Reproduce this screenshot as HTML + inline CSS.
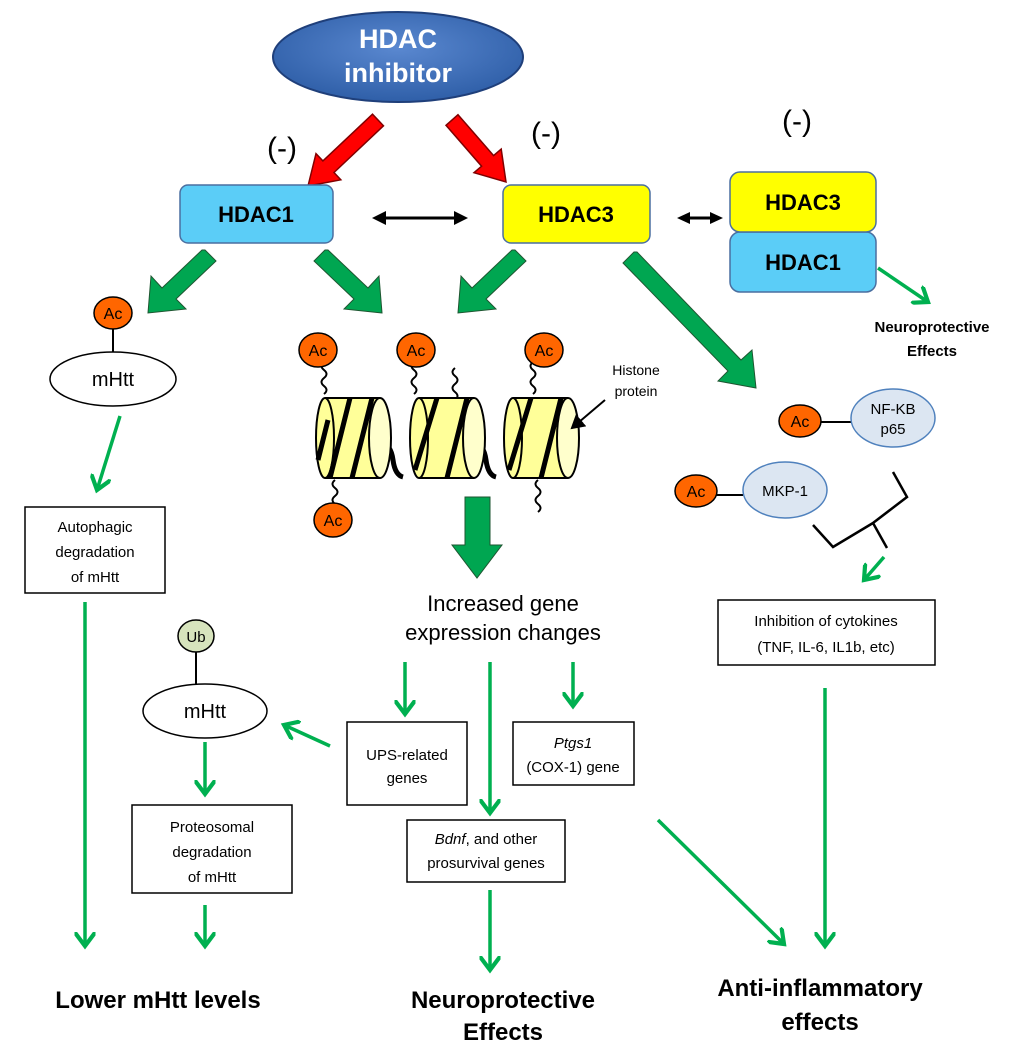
<!DOCTYPE html>
<html><head><meta charset="utf-8"><style>
body{margin:0;background:#fff}
svg{display:block;font-family:"Liberation Sans",sans-serif}
</style></head><body>
<svg width="1024" height="1052" viewBox="0 0 1024 1052">
<defs>
<marker id="g" markerWidth="6" markerHeight="6" refX="4" refY="3" orient="auto" markerUnits="strokeWidth"><path d="M0,0 L4,3 L0,6" fill="none" stroke="#00b050" stroke-width="1.2"/></marker>
<marker id="b" markerWidth="8" markerHeight="8" refX="6" refY="4" orient="auto" markerUnits="strokeWidth"><path d="M0,0 L7,4 L0,8z" fill="#000"/></marker>
<radialGradient id="eg" cx="50%" cy="40%" r="60%"><stop offset="0" stop-color="#5a88d0"/><stop offset="1" stop-color="#2f5fa8"/></radialGradient>
</defs>
<!-- HDAC inhibitor -->
<ellipse cx="398" cy="57" rx="125" ry="45" fill="url(#eg)" stroke="#1f3f7a" stroke-width="2"/>
<text x="398" y="48" font-size="27" font-weight="bold" fill="#fff" text-anchor="middle">HDAC</text>
<text x="398" y="82" font-size="27" font-weight="bold" fill="#fff" text-anchor="middle">inhibitor</text>
<!-- red arrows -->
<g fill="#ff0000" stroke="#800000" stroke-width="1.5">
<polygon points="372.5,114.2 322.9,160.9 316,153.6 308,186 340.8,179.8 334,172.5 383.5,125.8"/>
<polygon points="458,114.7 493.6,155.6 501.2,149.1 506,182 474,172.7 481.6,166.2 446,125.3"/>
</g>
<text x="282" y="158" font-size="30" text-anchor="middle">(-)</text>
<text x="546" y="143" font-size="30" text-anchor="middle">(-)</text>
<text x="797" y="131" font-size="30" text-anchor="middle">(-)</text>
<!-- HDAC boxes -->
<rect x="180" y="185" width="153" height="58" rx="8" fill="#5bcdf7" stroke="#4a6fa0" stroke-width="1.5"/>
<text x="256" y="222" font-size="22" font-weight="bold" text-anchor="middle">HDAC1</text>
<rect x="503" y="185" width="147" height="58" rx="8" fill="#ffff00" stroke="#4a6fa0" stroke-width="1.5"/>
<text x="576" y="222" font-size="22" font-weight="bold" text-anchor="middle">HDAC3</text>
<rect x="730" y="232" width="146" height="60" rx="10" fill="#5bcdf7" stroke="#4a6fa0" stroke-width="1.5"/>
<text x="803" y="270" font-size="22" font-weight="bold" text-anchor="middle">HDAC1</text>
<rect x="730" y="172" width="146" height="60" rx="10" fill="#ffff00" stroke="#4a6fa0" stroke-width="1.5"/>
<text x="803" y="210" font-size="22" font-weight="bold" text-anchor="middle">HDAC3</text>
<line x1="385" y1="218" x2="455" y2="218" stroke="#000" stroke-width="3"/>
<polygon points="372,218 386,211 386,225" fill="#000"/>
<polygon points="468,218 454,211 454,225" fill="#000"/>
<line x1="688" y1="218" x2="712" y2="218" stroke="#000" stroke-width="3"/>
<polygon points="677,218 690,212 690,224" fill="#000"/>
<polygon points="723,218 710,212 710,224" fill="#000"/>
<line x1="878" y1="268" x2="928" y2="302" stroke="#00b050" stroke-width="3.5" marker-end="url(#g)"/>
<text x="932" y="332" font-size="15" font-weight="bold" text-anchor="middle">Neuroprotective</text>
<text x="932" y="356" font-size="15" font-weight="bold" text-anchor="middle">Effects</text>
<!-- green block arrows -->
<g fill="#00a651" stroke="#1e5631" stroke-width="1">
<path d="M205,250 L216,261 L176,299 L186,309 L148,313 L151,276 L162,288 L202,250z" />
<path d="M325,250 L314,261 L354,299 L344,309 L382,313 L379,276 L368,288 L328,250z"/>
<path d="M515,250 L526,261 L486,299 L496,309 L458,313 L461,276 L472,288 L512,250z"/>
<path d="M634,252 L623,263 L728,371 L718,381 L756,388 L752,350 L741,360 L637,252z"/>
<path d="M465,497 L490,497 L490,545 L502,545 L477,578 L452,545 L465,545z"/>
</g>
<!-- mHtt top -->
<line x1="113" y1="328" x2="113" y2="352" stroke="#000" stroke-width="2"/>
<ellipse cx="113" cy="313" rx="19" ry="16" fill="#ff6600" stroke="#000" stroke-width="1.5"/>
<text x="113" y="319" font-size="16" text-anchor="middle">Ac</text>
<ellipse cx="113" cy="379" rx="63" ry="27" fill="#fff" stroke="#000" stroke-width="1.5"/>
<text x="113" y="386" font-size="20" text-anchor="middle">mHtt</text>
<line x1="120" y1="416" x2="97" y2="490" stroke="#00b050" stroke-width="3.5" marker-end="url(#g)"/>
<rect x="25" y="507" width="140" height="86" fill="#fff" stroke="#000" stroke-width="1.5"/>
<text x="95" y="532" font-size="15" text-anchor="middle">Autophagic</text>
<text x="95" y="557" font-size="15" text-anchor="middle">degradation</text>
<text x="95" y="582" font-size="15" text-anchor="middle">of mHtt</text>
<line x1="85" y1="602" x2="85" y2="946" stroke="#00b050" stroke-width="3.5" marker-end="url(#g)"/>
<!-- nucleosomes -->
<g stroke="#000" stroke-width="2" fill="none">
<path d="M324,362 q-5,4 0,8 q5,4 0,8 q-5,4 0,8 q5,4 0,8" />
<path d="M414,362 q-5,4 0,8 q5,4 0,8 q-5,4 0,8 q5,4 0,8" />
<path d="M455,368 q-5,4 0,8 q5,4 0,8 q-5,4 0,8 q5,4 0,8" />
<path d="M533,362 q-5,4 0,8 q5,4 0,8 q-5,4 0,8 q5,4 0,8" />
<path d="M335,480 q-5,4 0,8 q5,4 0,8 q-5,4 0,8 q5,4 0,8" />
<path d="M538,480 q-5,4 0,8 q5,4 0,8 q-5,4 0,8 q5,4 0,8" />
<path d="M383,445 q8,0 10,15 q2,15 10,17" stroke-width="5"/>
<path d="M476,445 q8,0 10,15 q2,15 10,17" stroke-width="5"/>
</g>
<g stroke="#000" stroke-width="2">
<g>
<rect x="325" y="398" width="55" height="80" fill="#ffff99" stroke="none"/>
<path d="M325,398 L380,398 M325,478 L380,478" />
<ellipse cx="325" cy="438" rx="9" ry="40" fill="#ffff99"/>
<ellipse cx="380" cy="438" rx="11" ry="40" fill="#ffffcc"/>
<path d="M330,478 L350,398 M352,478 L372,398 M318,460 L328,420" stroke-width="5"/>
</g>
<g>
<rect x="419" y="398" width="55" height="80" fill="#ffff99" stroke="none"/>
<path d="M419,398 L474,398 M419,478 L474,478" />
<ellipse cx="419" cy="438" rx="9" ry="40" fill="#ffff99"/>
<ellipse cx="474" cy="438" rx="11" ry="40" fill="#ffffcc"/>
<path d="M415,470 L437,398 M447,478 L467,398" stroke-width="5"/>
</g>
<g>
<rect x="513" y="398" width="55" height="80" fill="#ffff99" stroke="none"/>
<path d="M513,398 L568,398 M513,478 L568,478" />
<ellipse cx="513" cy="438" rx="9" ry="40" fill="#ffff99"/>
<ellipse cx="568" cy="438" rx="11" ry="40" fill="#ffffcc"/>
<path d="M509,470 L531,398 M541,478 L561,398" stroke-width="5"/>
</g>
</g>
<g font-size="16" text-anchor="middle">
<ellipse cx="318" cy="350" rx="19" ry="17" fill="#ff6600" stroke="#000" stroke-width="1.5"/><text x="318" y="356">Ac</text>
<ellipse cx="416" cy="350" rx="19" ry="17" fill="#ff6600" stroke="#000" stroke-width="1.5"/><text x="416" y="356">Ac</text>
<ellipse cx="544" cy="350" rx="19" ry="17" fill="#ff6600" stroke="#000" stroke-width="1.5"/><text x="544" y="356">Ac</text>
<ellipse cx="333" cy="520" rx="19" ry="17" fill="#ff6600" stroke="#000" stroke-width="1.5"/><text x="333" y="526">Ac</text>
</g>
<text x="636" y="375" font-size="14" text-anchor="middle">Histone</text>
<text x="636" y="396" font-size="14" text-anchor="middle">protein</text>
<line x1="605" y1="400" x2="572" y2="428" stroke="#000" stroke-width="2" marker-end="url(#b)"/>
<!-- NF-KB, MKP-1 -->
<line x1="818" y1="422" x2="852" y2="422" stroke="#000" stroke-width="2"/>
<ellipse cx="800" cy="421" rx="21" ry="16" fill="#ff6600" stroke="#000" stroke-width="1.5"/>
<text x="800" y="427" font-size="16" text-anchor="middle">Ac</text>
<ellipse cx="893" cy="418" rx="42" ry="29" fill="#dce6f2" stroke="#4f81bd" stroke-width="1.5"/>
<text x="893" y="414" font-size="15" text-anchor="middle">NF-KB</text>
<text x="893" y="434" font-size="15" text-anchor="middle">p65</text>
<line x1="714" y1="495" x2="743" y2="495" stroke="#000" stroke-width="2"/>
<ellipse cx="696" cy="491" rx="21" ry="16" fill="#ff6600" stroke="#000" stroke-width="1.5"/>
<text x="696" y="497" font-size="16" text-anchor="middle">Ac</text>
<ellipse cx="785" cy="490" rx="42" ry="28" fill="#dce6f2" stroke="#4f81bd" stroke-width="1.5"/>
<text x="785" y="496" font-size="15" text-anchor="middle">MKP-1</text>
<path d="M893,472 L907,497 L873,523 L887,548 M813,525 L833,547 L873,523" fill="none" stroke="#000" stroke-width="2.5"/>
<line x1="884" y1="557" x2="864" y2="580" stroke="#00b050" stroke-width="3.5" marker-end="url(#g)"/>
<rect x="718" y="600" width="217" height="65" fill="#fff" stroke="#000" stroke-width="1.5"/>
<text x="826" y="626" font-size="15" text-anchor="middle">Inhibition of cytokines</text>
<text x="826" y="652" font-size="15" text-anchor="middle">(TNF,  IL-6,  IL1b,  etc)</text>
<line x1="825" y1="688" x2="825" y2="946" stroke="#00b050" stroke-width="3.5" marker-end="url(#g)"/>
<!-- gene expression -->
<text x="503" y="611" font-size="22" text-anchor="middle">Increased gene</text>
<text x="503" y="640" font-size="22" text-anchor="middle">expression changes</text>
<line x1="405" y1="662" x2="405" y2="714" stroke="#00b050" stroke-width="3.5" marker-end="url(#g)"/>
<line x1="490" y1="662" x2="490" y2="813" stroke="#00b050" stroke-width="3.5" marker-end="url(#g)"/>
<line x1="573" y1="662" x2="573" y2="706" stroke="#00b050" stroke-width="3.5" marker-end="url(#g)"/>
<rect x="347" y="722" width="120" height="83" fill="#fff" stroke="#000" stroke-width="1.5"/>
<text x="407" y="760" font-size="15" text-anchor="middle">UPS-related</text>
<text x="407" y="783" font-size="15" text-anchor="middle">genes</text>
<rect x="513" y="722" width="121" height="63" fill="#fff" stroke="#000" stroke-width="1.5"/>
<text x="573" y="748" font-size="15" font-style="italic" text-anchor="middle">Ptgs1</text>
<text x="573" y="772" font-size="15" text-anchor="middle">(COX-1) gene</text>
<rect x="407" y="820" width="158" height="62" fill="#fff" stroke="#000" stroke-width="1.5"/>
<text x="486" y="844" font-size="15" text-anchor="middle"><tspan font-style="italic">Bdnf</tspan>, and other</text>
<text x="486" y="868" font-size="15" text-anchor="middle">prosurvival genes</text>
<line x1="490" y1="890" x2="490" y2="970" stroke="#00b050" stroke-width="3.5" marker-end="url(#g)"/>
<line x1="330" y1="746" x2="284" y2="725" stroke="#00b050" stroke-width="3.5" marker-end="url(#g)"/>
<line x1="658" y1="820" x2="784" y2="944" stroke="#00b050" stroke-width="3.5" marker-end="url(#g)"/>
<!-- Ub mHtt -->
<line x1="196" y1="650" x2="196" y2="684" stroke="#000" stroke-width="2"/>
<ellipse cx="196" cy="636" rx="18" ry="16" fill="#d7e4bd" stroke="#000" stroke-width="1.5"/>
<text x="196" y="642" font-size="15" text-anchor="middle">Ub</text>
<ellipse cx="205" cy="711" rx="62" ry="27" fill="#fff" stroke="#000" stroke-width="1.5"/>
<text x="205" y="718" font-size="20" text-anchor="middle">mHtt</text>
<line x1="205" y1="742" x2="205" y2="794" stroke="#00b050" stroke-width="3.5" marker-end="url(#g)"/>
<rect x="132" y="805" width="160" height="88" fill="#fff" stroke="#000" stroke-width="1.5"/>
<text x="212" y="832" font-size="15" text-anchor="middle">Proteosomal</text>
<text x="212" y="857" font-size="15" text-anchor="middle">degradation</text>
<text x="212" y="882" font-size="15" text-anchor="middle">of mHtt</text>
<line x1="205" y1="905" x2="205" y2="946" stroke="#00b050" stroke-width="3.5" marker-end="url(#g)"/>
<!-- bottom labels -->
<text x="158" y="1008" font-size="24" font-weight="bold" text-anchor="middle">Lower mHtt levels</text>
<text x="503" y="1008" font-size="24" font-weight="bold" text-anchor="middle">Neuroprotective</text>
<text x="503" y="1040" font-size="24" font-weight="bold" text-anchor="middle">Effects</text>
<text x="820" y="996" font-size="24" font-weight="bold" text-anchor="middle">Anti-inflammatory</text>
<text x="820" y="1030" font-size="24" font-weight="bold" text-anchor="middle">effects</text>
</svg>
</body></html>
